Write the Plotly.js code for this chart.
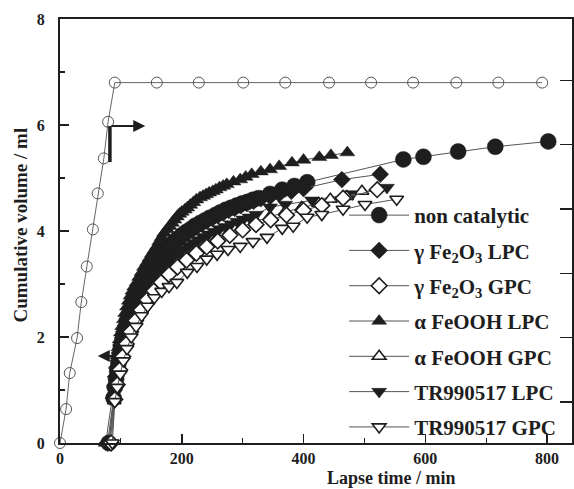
<!DOCTYPE html>
<html>
<head>
<meta charset="utf-8">
<script src="https://cdn.plot.ly/plotly-3.0.1.min.js"></script>
<style>html,body{margin:0;padding:0;background:#fff;}#chart{width:574px;height:489px;}</style>
</head>
<body>
<div id="chart"></div>
<script>
// ---- data ----
var seriesNames = ["non catalytic", "\u03b3 Fe<sub>2</sub>O<sub>3</sub> LPC", "\u03b3 Fe<sub>2</sub>O<sub>3</sub> GPC",
  "\u03b1 FeOOH LPC", "\u03b1 FeOOH GPC", "TR990517 LPC", "TR990517 GPC"];

// reference curve (open circles, right-hand axis)
var refX = [0, 10, 16, 28, 35, 44, 54, 62, 72, 79, 90, 159, 228, 301, 370, 442, 511, 580, 651, 720, 792];
var refY = [0, 0.64, 1.32, 1.98, 2.66, 3.33, 4.03, 4.71, 5.37, 6.06, 6.8, 6.8, 6.8, 6.8, 6.8, 6.8, 6.8, 6.8, 6.8, 6.8, 6.8];

var nonCatX = [80, 88, 90, 92, 94, 96, 98, 100, 103, 105, 108, 110, 113, 116, 119, 122, 126, 130, 134, 138, 143, 147, 152, 157, 163, 168, 174, 180, 187, 193, 200, 207, 215, 222, 230, 238, 246, 255, 263, 272, 281, 290, 299, 308, 317, 326, 345, 365, 385, 406, 564, 597, 654, 715, 802];
var nonCatY = [0, 0.85, 1.05, 1.2, 1.35, 1.5, 1.65, 1.8, 1.95, 2.05, 2.18, 2.3, 2.41, 2.52, 2.62, 2.72, 2.82, 2.92, 3.01, 3.1, 3.19, 3.27, 3.35, 3.43, 3.51, 3.58, 3.65, 3.72, 3.79, 3.85, 3.92, 3.98, 4.04, 4.1, 4.15, 4.2, 4.25, 4.3, 4.35, 4.4, 4.44, 4.48, 4.52, 4.55, 4.59, 4.62, 4.7, 4.78, 4.85, 4.92, 5.35, 5.40, 5.50, 5.59, 5.69];

var gLpcX = [78, 88, 90, 92, 94, 96, 98, 100, 103, 105, 108, 111, 114, 118, 121, 125, 129, 133, 137, 142, 147, 152, 157, 163, 169, 175, 181, 188, 195, 202, 209, 217, 225, 233, 241, 250, 259, 268, 277, 287, 297, 307, 318, 330, 345, 360, 380, 400, 463, 526];
var gLpcY = [0, 0.85, 1.08, 1.25, 1.4, 1.55, 1.7, 1.85, 1.98, 2.1, 2.22, 2.35, 2.47, 2.58, 2.68, 2.78, 2.88, 2.97, 3.06, 3.15, 3.24, 3.32, 3.4, 3.48, 3.56, 3.63, 3.7, 3.77, 3.84, 3.9, 3.96, 4.02, 4.08, 4.13, 4.19, 4.24, 4.29, 4.34, 4.39, 4.43, 4.48, 4.52, 4.56, 4.61, 4.65, 4.7, 4.75, 4.8, 4.97, 5.07];

var gGpcX = [84, 90, 94, 98, 103, 109, 116, 124, 133, 143, 154, 166, 179, 193, 208, 224, 241, 259, 279, 300, 322, 346, 372, 400, 430, 465, 521];
var gGpcY = [0, 0.82, 1.1, 1.38, 1.63, 1.87, 2.1, 2.31, 2.51, 2.7, 2.87, 3.03, 3.18, 3.32, 3.45, 3.58, 3.7, 3.81, 3.92, 4.02, 4.12, 4.21, 4.3, 4.39, 4.48, 4.62, 4.78];

var aLpcX = [75, 87, 89, 90, 92, 94, 96, 98, 100, 102, 105, 107, 110, 113, 116, 119, 122, 126, 130, 134, 138, 143, 147, 151, 155, 159, 163, 167, 171, 176, 180, 184, 188, 192, 196, 200, 205, 209, 214, 219, 224, 230, 235, 240, 245, 251, 256, 262, 268, 274, 285, 296, 305, 315, 330, 345, 360, 381, 400, 426, 445, 472];
var aLpcY = [0, 0.9, 1.1, 1.3, 1.48, 1.65, 1.8, 1.95, 2.08, 2.2, 2.33, 2.45, 2.57, 2.68, 2.78, 2.87, 2.95, 3.03, 3.13, 3.22, 3.32, 3.41, 3.49, 3.57, 3.64, 3.71, 3.8, 3.88, 3.96, 4.03, 4.09, 4.15, 4.21, 4.27, 4.32, 4.36, 4.4, 4.44, 4.49, 4.54, 4.59, 4.63, 4.66, 4.69, 4.72, 4.75, 4.78, 4.82, 4.85, 4.88, 4.93, 4.97, 5.02, 5.07, 5.12, 5.16, 5.22, 5.29, 5.34, 5.39, 5.43, 5.48];

var aGpcX = [80, 89, 93, 97, 102, 108, 115, 123, 132, 142, 153, 165, 178, 192, 207, 223, 240, 258, 278, 299, 321, 345, 370, 397, 425, 444, 471, 496];
var aGpcY = [0, 0.8, 1.12, 1.4, 1.67, 1.92, 2.15, 2.37, 2.57, 2.76, 2.94, 3.1, 3.25, 3.39, 3.52, 3.64, 3.76, 3.87, 3.98, 4.08, 4.18, 4.27, 4.36, 4.44, 4.52, 4.6, 4.65, 4.75];

var tLpcX = [82, 89, 91, 93, 95, 97, 99, 101, 104, 106, 109, 112, 115, 119, 123, 127, 131, 136, 141, 146, 151, 157, 163, 169, 175, 182, 189, 196, 203, 211, 219, 227, 235, 244, 253, 262, 271, 281, 291, 301, 311, 322, 345, 370, 414, 480, 537];
var tLpcY = [0, 0.8, 0.98, 1.15, 1.3, 1.45, 1.58, 1.72, 1.85, 1.98, 2.1, 2.22, 2.34, 2.45, 2.55, 2.65, 2.75, 2.84, 2.93, 3.02, 3.1, 3.18, 3.26, 3.33, 3.4, 3.47, 3.54, 3.6, 3.66, 3.72, 3.78, 3.83, 3.89, 3.94, 3.99, 4.04, 4.08, 4.13, 4.18, 4.22, 4.26, 4.31, 4.45, 4.5, 4.58, 4.7, 4.82];

var tGpcX = [86, 90, 94, 99, 104, 110, 117, 125, 134, 144, 155, 167, 179, 192, 209, 225, 241, 258, 276, 296, 317, 340, 365, 383, 406, 430, 465, 501, 553];
var tGpcY = [0, 0.78, 1.05, 1.3, 1.55, 1.78, 2.0, 2.2, 2.4, 2.58, 2.74, 2.86, 2.95, 3.03, 3.22, 3.33, 3.47, 3.56, 3.65, 3.71, 3.80, 3.88, 4.05, 4.09, 4.26, 4.31, 4.41, 4.5, 4.6];

var xTickVals = [0, 200, 400, 600, 800];
var yTickVals = [0, 2, 4, 6, 8];

// ---- styling ----
var ink = "#1e1e1e";
var lineCol = "#555";
var fontFam = "Liberation Serif, Times New Roman, serif";

function series(name, xs, ys, symbol, size, filled, rank) {
  return {
    type: "scatter", mode: "lines+markers", name: name, x: xs, y: ys,
    legendrank: rank, legendgroup: "g" + rank,
    line: {color: lineCol, width: 1},
    marker: {symbol: symbol, size: size, color: filled ? ink : "#fff",
             line: {color: ink, width: filled ? 0.5 : 1.6}},
    cliponaxis: false, hoverinfo: "skip"
  };
}

var traces = [
  {type: "scatter", mode: "lines+markers", x: refX, y: refY, showlegend: false,
   line: {color: "#666", width: 1},
   marker: {symbol: "circle-open", size: 11, color: "#555", line: {width: 1}},
   cliponaxis: false, hoverinfo: "skip"},
  {type: "scatter", x: [null], y: [null], yaxis: "y2", showlegend: false, hoverinfo: "skip"},
  series(seriesNames[0], nonCatX, nonCatY, "circle", 16, true, 1),
  series(seriesNames[3], aLpcX, aLpcY, "triangle-up", 13, true, 4),
  series(seriesNames[1], gLpcX, gLpcY, "diamond", 13, true, 2),
  series(seriesNames[5], tLpcX, tLpcY, "triangle-down", 13, true, 6),
  series(seriesNames[4], aGpcX, aGpcY, "triangle-up", 12, false, 5),
  series(seriesNames[2], gGpcX, gGpcY, "diamond", 12, false, 3),
  series(seriesNames[6], tGpcX, tGpcY, "triangle-down", 12, false, 7)
];

var tickFont = {family: fontFam, size: 16, color: ink, weight: 700};

var layout = {
  width: 574, height: 489,
  margin: {l: 60, r: 2, t: 19, b: 46, pad: 0},
  paper_bgcolor: "#fff", plot_bgcolor: "#fff",
  showlegend: true,
  xaxis: {
    range: [0, 841], tickvals: xTickVals, ticks: "inside", ticklen: 9, tickwidth: 1.5, tickcolor: ink,
    minor: {dtick: 100, tick0: 0, ticks: "inside", ticklen: 5, tickwidth: 1.2, tickcolor: ink},
    showline: true, linewidth: 2, linecolor: ink, mirror: true,
    showgrid: false, zeroline: false, tickfont: tickFont, ticklabelstandoff: 0
  },
  yaxis: {
    range: [0, 8], tickvals: yTickVals, ticks: "inside", ticklen: 9, tickwidth: 1.5, tickcolor: ink,
    minor: {dtick: 1, tick0: 0, ticks: "inside", ticklen: 5, tickwidth: 1.2, tickcolor: ink},
    showline: true, linewidth: 2, linecolor: ink,
    showgrid: false, zeroline: false, tickfont: tickFont, ticklabelstandoff: 10
  },
  yaxis2: {
    overlaying: "y", side: "right", range: [-0.636, 5.953], tick0: 0, dtick: 1,
    ticks: "inside", ticklen: 12, tickwidth: 1.5, tickcolor: ink, showticklabels: false,
    showline: true, linewidth: 1.5, linecolor: ink, showgrid: false, zeroline: false
  },
  legend: {
    x: 0.555, y: 0.585, xanchor: "left", yanchor: "top",
    bgcolor: "rgba(0,0,0,0)", borderwidth: 0,
    font: {family: fontFam, size: 21, color: ink, weight: 700},
    traceorder: "grouped", tracegroupgap: 5, itemwidth: 60
  },
  annotations: [
    {xref: "paper", yref: "paper", x: 0.648, y: -0.108, xanchor: "center", yanchor: "bottom",
     text: "Lapse time / min", showarrow: false, borderpad: 0,
     font: {family: fontFam, size: 18, color: ink, weight: 700}},
    {xref: "paper", yref: "paper", x: -0.078, y: 0.513, xanchor: "center", yanchor: "middle",
     text: "Cumulative volume / ml", textangle: -90, showarrow: false,
     font: {family: fontFam, size: 19, color: ink, weight: 700}},
    {xref: "x", yref: "y", x: 140, y: 5.98, axref: "x", ayref: "y", ax: 82, ay: 5.98,
     text: "", showarrow: true, arrowhead: 2, arrowsize: 1.2, arrowwidth: 2, arrowcolor: ink},
    {xref: "x", yref: "y", x: 62, y: 1.64, axref: "x", ayref: "y", ax: 94, ay: 1.64,
     text: "", showarrow: true, arrowhead: 2, arrowsize: 1.2, arrowwidth: 2, arrowcolor: ink}
  ],
  shapes: [
    {type: "line", xref: "x", yref: "y", x0: 82, x1: 82, y0: 5.98, y1: 5.3,
     line: {color: ink, width: 3.5}}
  ]
};

Plotly.newPlot("chart", traces, layout, {displayModeBar: false, staticPlot: true});
</script>
</body>
</html>
